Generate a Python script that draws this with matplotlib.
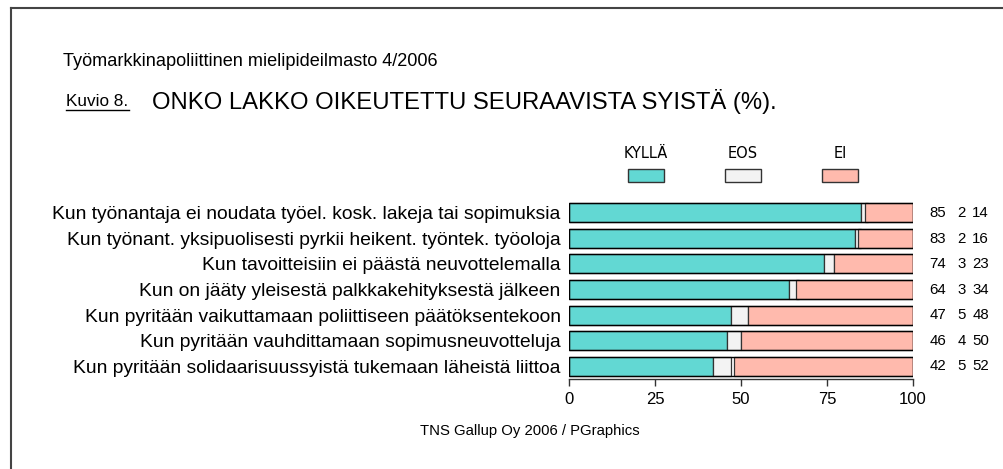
import matplotlib
matplotlib.use("Agg")
import matplotlib.pyplot as plt
from matplotlib.lines import Line2D

categories = [
    "Kun työnantaja ei noudata työel. kosk. lakeja tai sopimuksia",
    "Kun työnant. yksipuolisesti pyrkii heikent. työntek. työoloja",
    "Kun tavoitteisiin ei päästä neuvottelemalla",
    "Kun on jääty yleisestä palkkakehityksestä jälkeen",
    "Kun pyritään vaikuttamaan poliittiseen päätöksentekoon",
    "Kun pyritään vauhdittamaan sopimusneuvotteluja",
    "Kun pyritään solidaarisuussyistä tukemaan läheistä liittoa",
]
kylla = [85, 83, 74, 64, 47, 46, 42]
eos = [2, 2, 3, 3, 5, 4, 5]
ei = [14, 16, 23, 34, 48, 50, 52]
series_names = ["KYLLÄ", "EOS", "EI"]
xticks = [0, 25, 50, 75, 100]

c_k = "#62d8d3"
c_e = "#f3f3f3"
c_i = "#ffbaad"
edge = "#333333"

W, H = 1004, 469
fig = plt.figure(figsize=(W / 100, H / 100), dpi=100)
plt.rcParams["font.family"] = ["Liberation Sans", "DejaVu Sans"]

def fx(px):
    return px / W

def fy(py):
    return 1 - py / H

ax = fig.add_axes([fx(569), fy(379), fx(913) - fx(569), fy(200) - fy(379)])
n = len(categories)
ys = list(range(n))
h = 0.74
left_ei = [100 - v for v in ei]
ax.barh(ys, kylla, height=h, left=0, color=c_k, edgecolor=edge, linewidth=0.9)
ax.barh(ys, eos, height=h, left=kylla, color=c_e, edgecolor=edge, linewidth=0.9)
ax.barh(ys, ei, height=h, left=left_ei, color=c_i, edgecolor=edge, linewidth=0.9)
# outer frame for each bar
ax.barh(ys, [100] * n, height=h, left=0, color="none", edgecolor="black", linewidth=1.0)

ax.set_xlim(0, 100)
ax.set_ylim(n - 0.5, -0.5)
ax.set_yticks(ys)
ax.set_yticklabels(categories, fontsize=13.9)
ax.tick_params(axis="y", length=0, pad=6)
ax.set_xticks(xticks)
ax.set_xticklabels([str(t) for t in xticks], fontsize=12)
ax.tick_params(axis="x", length=5, width=1, color="#333333", pad=4)
for s in ["top", "right", "left"]:
    ax.spines[s].set_visible(False)
ax.spines["bottom"].set_color("#333333")
ax.spines["bottom"].set_linewidth(1.0)

for i in range(n):
    y = fy(213 + i * 25.5)
    fig.text(fx(946), y, str(kylla[i]), ha="right", va="center", fontsize=10.8)
    fig.text(fx(966), y, str(eos[i]), ha="right", va="center", fontsize=10.8)
    fig.text(fx(989), y, str(ei[i]), ha="right", va="center", fontsize=10.8)

# legend
leg_x = [646, 743, 840]
leg_cols = [c_k, c_e, c_i]
for x, name, col in zip(leg_x, series_names, leg_cols):
    fig.text(fx(x), fy(153), name, ha="center", va="center", fontsize=10.5, family="DejaVu Sans")
    fig.patches.append(plt.Rectangle((fx(x - 18), fy(182)), fx(36), fy(169) - fy(182),
                                     transform=fig.transFigure, facecolor=col,
                                     edgecolor="#333333", linewidth=1.0))

# titles
fig.text(fx(63), fy(62), "Työmarkkinapoliittinen mielipideilmasto 4/2006", ha="left", va="center", fontsize=13.1)
fig.text(fx(66), fy(101), "Kuvio 8.", ha="left", va="center", fontsize=12.3)
fig.add_artist(Line2D([fx(66), fx(129)], [fy(110), fy(110)], color="black", linewidth=1.0))
fig.text(fx(152), fy(101), "ONKO LAKKO OIKEUTETTU SEURAAVISTA SYISTÄ (%).", ha="left", va="center", fontsize=17.2)
fig.text(fx(530), fy(431), "TNS Gallup Oy 2006 / PGraphics", ha="center", va="center", fontsize=10.7)

# page frame
fig.add_artist(Line2D([fx(11.5), fx(11.5)], [fy(8.5), 0], color="#444444", linewidth=1.5))
fig.add_artist(Line2D([fx(11.5), 1], [fy(8.5), fy(8.5)], color="#444444", linewidth=1.5))

fig.savefig("out.png", dpi=100, facecolor="white")
